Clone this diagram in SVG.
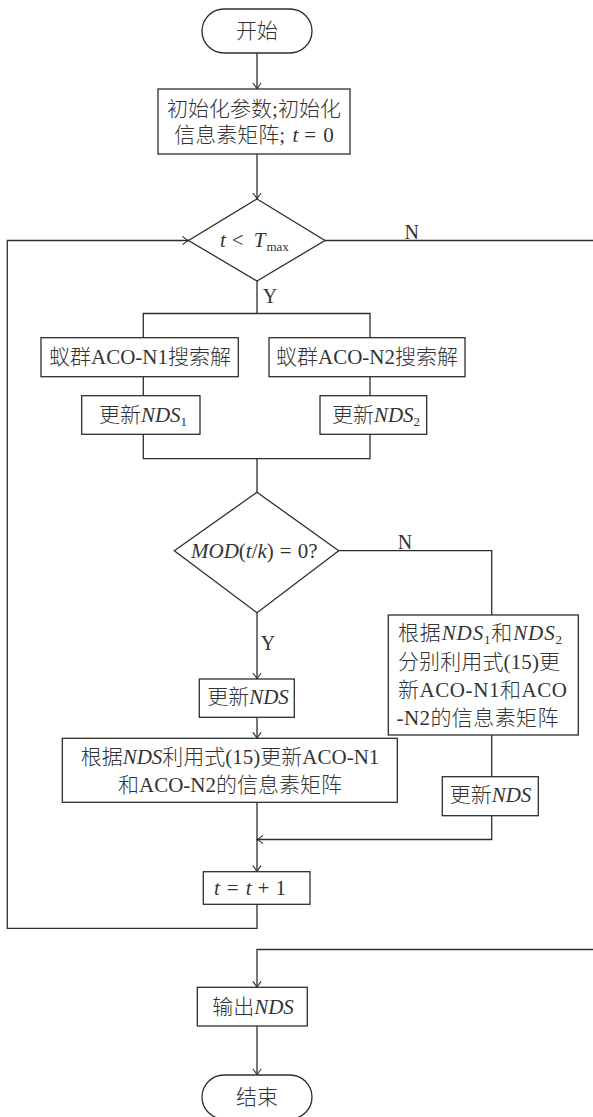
<svg xmlns="http://www.w3.org/2000/svg" width="593" height="1117" viewBox="0 0 593 1117">
<defs>
<marker id="arr" viewBox="-8 -5 10 10" refX="0" refY="0" markerWidth="10" markerHeight="10" markerUnits="userSpaceOnUse" orient="auto" overflow="visible">
<path d="M-6,-4.2 Q-2.5,-1.2 0,0 Q-2.5,1.2 -6,4.2" fill="none" stroke="#2e2e2e" stroke-width="1.1"/>
</marker>
<style>
.n{fill:#fff;stroke:#2e2e2e;stroke-width:1.3}
.c{fill:none;stroke:#2e2e2e;stroke-width:1.3}
.a{marker-end:url(#arr)}
text{font-family:"Liberation Serif","Noto Sans CJK SC",serif;font-size:21px;font-weight:300;fill:#333}
.m{text-anchor:middle}
.i{font-style:italic;font-weight:400}
.sub{font-size:13px}
.lbl{font-size:20px}
</style>
</defs>
<rect width="593" height="1117" fill="#fff"/>
<g id="connectors">
<line class="c a" x1="257" y1="53" x2="257" y2="89"/>
<line class="c a" x1="257" y1="154" x2="257" y2="199"/>
<polyline class="c" points="257,281 257,313.5"/>
<polyline class="c" points="143.3,337.7 143.3,313.5 370,313.5 370,337.7"/>
<line class="c" x1="143.3" y1="376.7" x2="143.3" y2="395.7"/>
<line class="c" x1="370" y1="376.7" x2="370" y2="395.7"/>
<polyline class="c" points="143.3,434.3 143.3,458.7 370,458.7 370,434.3"/>
<line class="c" x1="257" y1="458.7" x2="257" y2="492.3"/>
<line class="c a" x1="257" y1="612.7" x2="257" y2="679"/>
<line class="c a" x1="257" y1="717.3" x2="257" y2="738.3"/>
<line class="c a" x1="257" y1="802.3" x2="257" y2="871.7"/>
<polyline class="c" points="338.7,550.7 491.7,550.7 491.7,615"/>
<line class="c" x1="491.7" y1="735" x2="491.7" y2="776.7"/>
<polyline class="c a" points="491.7,815.7 491.7,839.5 257,839.5"/>
<polyline class="c a" points="257,904.3 257,928.3 7.3,928.3 7.3,240.5 188.5,240.5"/>
<line class="c" x1="325" y1="240.5" x2="594" y2="240.5"/>
<polyline class="c a" points="594,949.5 257,949.5 257,987.3"/>
<line class="c a" x1="257" y1="1026" x2="257" y2="1075"/>
<text class="lbl m" x="411.7" y="238.5">N</text>
<text class="lbl m" x="270" y="303">Y</text>
<text class="lbl m" x="405" y="548.5">N</text>
<text class="lbl m" x="268" y="650">Y</text>
</g>
<g id="start">
<rect class="n" x="202" y="9" width="110" height="44" rx="22"/>
<text class="m" x="257" y="38">开始</text>
</g>
<g id="init">
<rect class="n" x="158" y="89" width="192" height="65"/>
<text class="m" x="254" y="116">初始化参数;初始化</text>
<text class="m" x="254" y="142">信息素矩阵; <tspan class="i" dx="2">t</tspan><tspan dx="6">=</tspan><tspan dx="7">0</tspan></text>
</g>
<g id="cond1">
<polygon class="n" points="257,199 325,240.5 257,281 188.5,240.5"/>
<text x="220" y="247"><tspan class="i">t</tspan><tspan dx="6">&lt;</tspan><tspan class="i" dx="10">T</tspan><tspan class="sub" dy="4" dx="1">max</tspan></text>
</g>
<g id="search1">
<rect class="n" x="41" y="337.7" width="197.3" height="39"/>
<text class="m" x="140" y="363.7">蚁群ACO-N1搜索解</text>
</g>
<g id="search2">
<rect class="n" x="269" y="337.7" width="196" height="39"/>
<text class="m" x="367" y="363.7">蚁群ACO-N2搜索解</text>
</g>
<g id="nds1">
<rect class="n" x="81.7" y="395.7" width="118.3" height="38.6"/>
<text class="m" x="143" y="422">更新<tspan class="i">NDS</tspan><tspan class="sub" dy="4">1</tspan></text>
</g>
<g id="nds2">
<rect class="n" x="320" y="395.7" width="106.7" height="38.6"/>
<text class="m" x="376" y="422">更新<tspan class="i">NDS</tspan><tspan class="sub" dy="4">2</tspan></text>
</g>
<g id="cond2">
<polygon class="n" points="257,492.3 338.7,550.7 257,612.7 174.3,550.7"/>
<text x="191" y="557.5"><tspan class="i">MOD</tspan>(<tspan class="i">t</tspan>/<tspan class="i">k</tspan>)<tspan dx="6">=</tspan><tspan dx="6">0?</tspan></text>
</g>
<g id="updateNDS">
<rect class="n" x="199.3" y="679" width="95" height="38.3"/>
<text class="m" x="248" y="704">更新<tspan class="i">NDS</tspan></text>
</g>
<g id="updateMatrix">
<rect class="n" x="62.3" y="738.3" width="335" height="64"/>
<text class="m" x="230" y="763.7">根据<tspan class="i">NDS</tspan>利用式(15)更新ACO-N1</text>
<text class="m" x="230" y="792">和ACO-N2的信息素矩阵</text>
</g>
<g id="updateSeparate">
<rect class="n" x="388.3" y="615" width="190" height="120"/>
<text x="398" y="640.3" textLength="164" lengthAdjust="spacing">根据<tspan class="i">NDS</tspan><tspan class="sub" dy="4">1</tspan><tspan dy="-4">和</tspan><tspan class="i">NDS</tspan><tspan class="sub" dy="4">2</tspan></text>
<text x="398" y="668.7" textLength="162" lengthAdjust="spacing">分别利用式(15)更</text>
<text x="398" y="697" textLength="169" lengthAdjust="spacing">新ACO-N1和ACO</text>
<text x="396.5" y="725.3" textLength="162" lengthAdjust="spacing">-N2的信息素矩阵</text>
</g>
<g id="updateNDS2">
<rect class="n" x="442.3" y="776.7" width="96" height="39"/>
<text class="m" x="490.5" y="802">更新<tspan class="i">NDS</tspan></text>
</g>
<g id="increment">
<rect class="n" x="203.3" y="871.7" width="106.7" height="32.6"/>
<text x="214" y="895"><tspan class="i">t</tspan><tspan dx="7">=</tspan><tspan class="i" dx="7">t</tspan><tspan dx="6">+</tspan><tspan dx="6">1</tspan></text>
</g>
<g id="output">
<rect class="n" x="197.3" y="987.3" width="110" height="38.7"/>
<text class="m" x="253" y="1013.5">输出<tspan class="i">NDS</tspan></text>
</g>
<g id="end">
<rect class="n" x="202" y="1075" width="110" height="44" rx="22"/>
<text class="m" x="257" y="1104">结束</text>
</g>
</svg>
